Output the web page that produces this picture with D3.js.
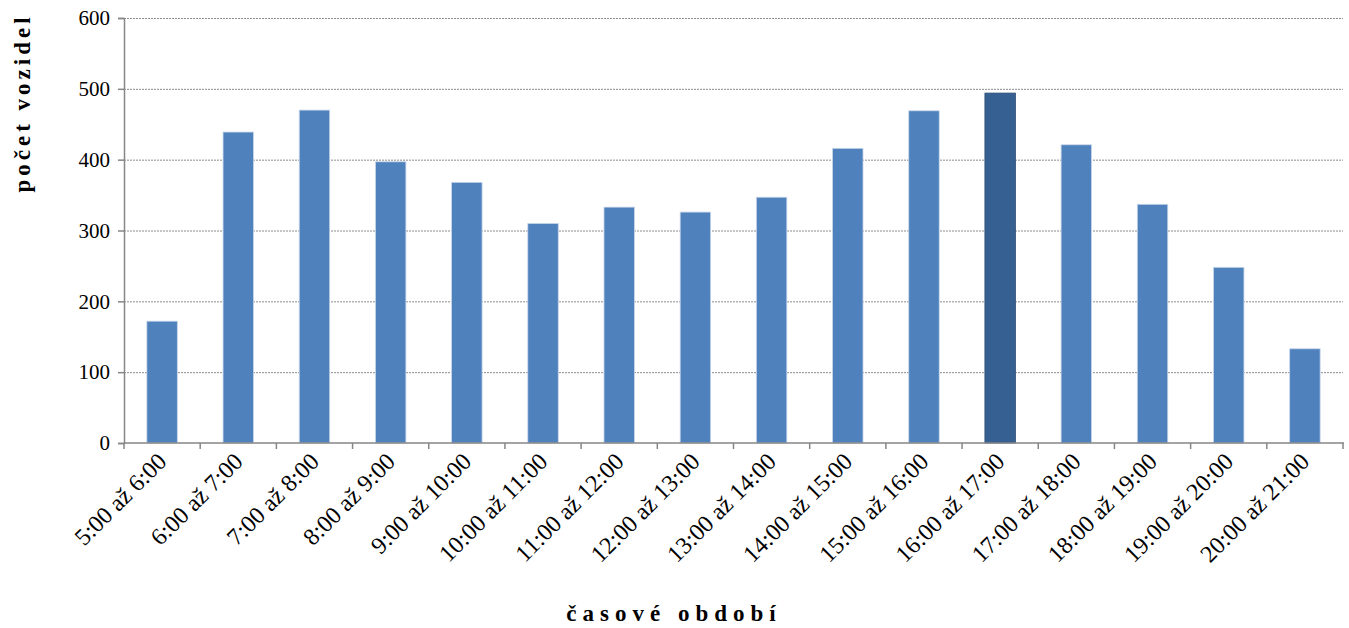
<!DOCTYPE html>
<html><head><meta charset="utf-8">
<script src="https://cdn.jsdelivr.net/npm/d3@7"></script>
<style>body{margin:0;background:#fff}svg{display:block}svg text{font-family:"Liberation Serif","Times New Roman",serif}</style>
</head><body>
<svg id="c" width="1349" height="628"></svg>
<script>
const categories = ["5:00 až 6:00","6:00 až 7:00","7:00 až 8:00","8:00 až 9:00","9:00 až 10:00","10:00 až 11:00","11:00 až 12:00","12:00 až 13:00","13:00 až 14:00","14:00 až 15:00","15:00 až 16:00","16:00 až 17:00","17:00 až 18:00","18:00 až 19:00","19:00 až 20:00","20:00 až 21:00"];
const values = [172,439,470,397,368,310,333,326,347,416,469,494,421,337,248,133];
const highlighted = ["16:00 až 17:00"];
const yTicks = [0,100,200,300,400,500,600];
const yTitle = "počet vozidel";
const xTitle = "časové období";

const svg = d3.select("#c");
const L = 124, R = 1343, T = 18, B = 443;
const x = d3.scaleBand().domain(categories).range([L, R]).paddingInner(0.6).paddingOuter(0.3);
const y = d3.scaleLinear().domain([0, 600]).range([B, T]);

// gridlines
svg.append("g").selectAll("line").data(yTicks.filter(d => d > 0)).join("line")
  .attr("x1", L).attr("x2", R).attr("y1", d => y(d) + 0.5).attr("y2", d => y(d) + 0.5)
  .attr("stroke", "#8c8c8c").attr("stroke-width", 1).attr("stroke-dasharray", "2,1");

// bars
svg.append("g").selectAll("rect").data(values).join("rect")
  .attr("x", (d, i) => x(categories[i]))
  .attr("y", d => y(d))
  .attr("width", x.bandwidth())
  .attr("height", d => B - y(d))
  .attr("fill", (d, i) => highlighted.includes(categories[i]) ? "#376092" : "#4f81bd")
  .attr("stroke", (d, i) => highlighted.includes(categories[i]) ? "#2c4d75" : "#c9d7ea")
  .attr("stroke-width", 0.8);

// y axis
const yAxis = svg.append("g").attr("transform", `translate(${L},0)`)
  .call(d3.axisLeft(y).tickValues(yTicks).tickSize(6).tickPadding(8));
yAxis.select(".domain").attr("stroke", "#868686").attr("stroke-width", 1.5);
yAxis.selectAll(".tick line").attr("stroke", "#868686").attr("stroke-width", 1.5);
yAxis.selectAll("text").attr("font-family", null).style("font-size", "21px").attr("fill", "#000");

// x axis with boundary ticks
const bounds = d3.range(categories.length + 1).map(i => L + i * (R - L) / categories.length);
const xg = svg.append("g");
xg.append("line").attr("x1", L).attr("x2", R + 1).attr("y1", B).attr("y2", B)
  .attr("stroke", "#868686").attr("stroke-width", 1.5);
xg.selectAll("line.t").data(bounds).join("line").attr("class", "t")
  .attr("x1", d => d).attr("x2", d => d).attr("y1", B).attr("y2", B + 6)
  .attr("stroke", "#868686").attr("stroke-width", 1.5);
xg.selectAll("text").data(categories).join("text")
  .attr("transform", d => `translate(${x(d) + x.bandwidth() / 2},${B + 14}) rotate(-45)`)
  .attr("text-anchor", "end").attr("dy", "0.35em")
  .style("font-size", "24px").attr("fill", "#000")
  .text(d => d);

// titles
svg.append("text").attr("transform", "translate(30,103) rotate(-90)")
  .attr("text-anchor", "middle").style("font-weight", "bold")
  .style("font-size", "23px").style("letter-spacing", "4px").text(yTitle);
svg.append("text").attr("x", 674).attr("y", 621)
  .attr("text-anchor", "middle").style("font-weight", "bold")
  .style("font-size", "23px").style("letter-spacing", "6px").text(xTitle);
</script>
</body></html>
